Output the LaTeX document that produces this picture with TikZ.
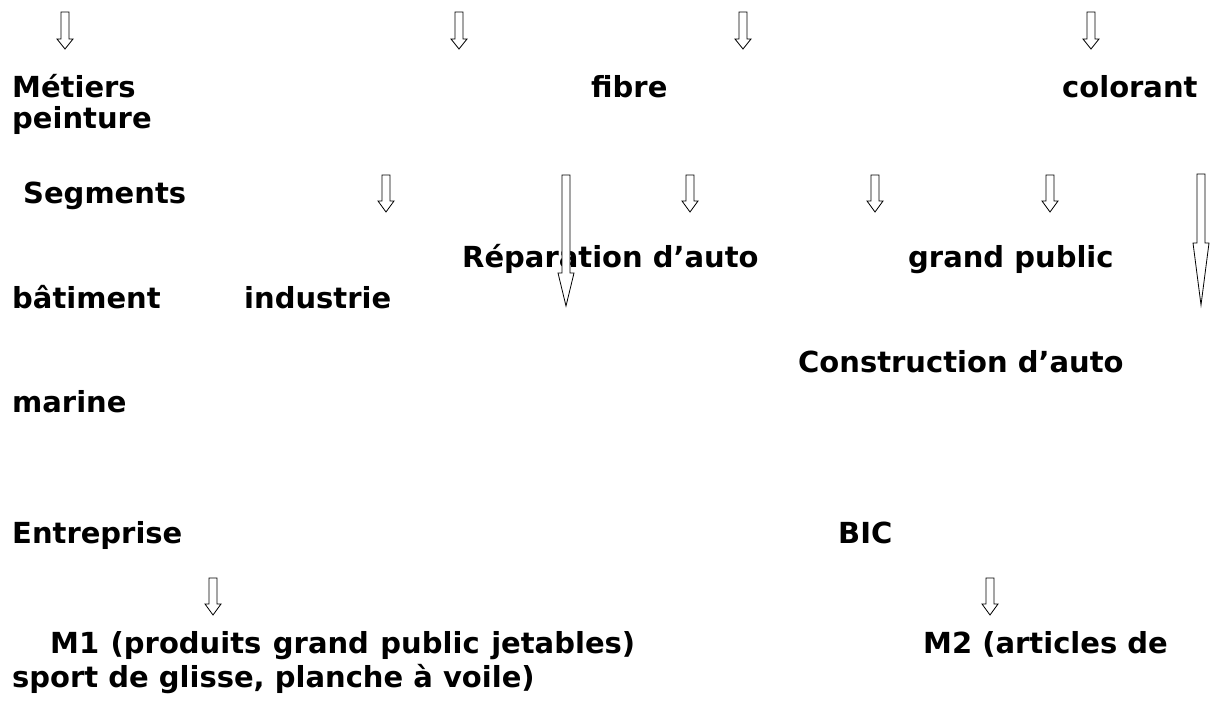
\documentclass[tikz,border=0pt]{standalone}
\usepackage{fontspec}
\setmainfont{DejaVu Sans}
\begin{document}
\begin{tikzpicture}[x=1pt,y=-1pt,line join=miter,
	txt/.style={anchor=base west,inner sep=0pt,font=\bfseries\fontsize{29}{31}\selectfont},
	blk/.style={draw=black,fill=white,line width=0.8pt}]
	\useasboundingbox[fill=white] (0,0) rectangle (1211,720);
	\node[txt] (metiers) at (12,97) {Métiers};
	\node[txt] (peinture) at (12,128) {peinture};
	\node[txt] (fibre) at (591,97) {fibre};
	\node[txt] (colorant) at (1062,97) {colorant};
	\node[txt] (segments) at (23,203) {Segments};
	\node[txt] (reparation) at (462,267) {Réparation d’auto};
	\node[txt] (grandpublic) at (908,267) {grand public};
	\node[txt] (batiment) at (12,308) {bâtiment};
	\node[txt] (industrie) at (244,308) {industrie};
	\node[txt] (construction) at (798,372) {Construction d’auto};
	\node[txt] (marine) at (12,412) {marine};
	\node[txt] (entreprise) at (12,543) {Entreprise};
	\node[txt] (bic) at (838,543) {BIC};
	\node[txt] (mone) at (50,653) {\spaceskip=11.5pt M1 (produits grand public jetables)};
	\node[txt] (mtwo) at (923,653) {M2 (articles de};
	\node[txt] (sport) at (12,687) {sport de glisse, planche à voile)};
	\foreach \x/\t/\h/\b in {65/12/39/49,459/12/39/49,743/12/39/49,1091/12/39/49,
		386/175/201/212,690/175/201/212,875/175/201/212,1050/175/201/212,
		566/175/273/306,1201/174/243/305,213/578/604/615,990/578/604/615}
		\draw[blk] (\x-4,\t)--(\x+4,\t)--(\x+4,\h)--(\x+8,\h)--(\x,\b)--(\x-8,\h)--(\x-4,\h)--cycle;
\end{tikzpicture}
\end{document}
